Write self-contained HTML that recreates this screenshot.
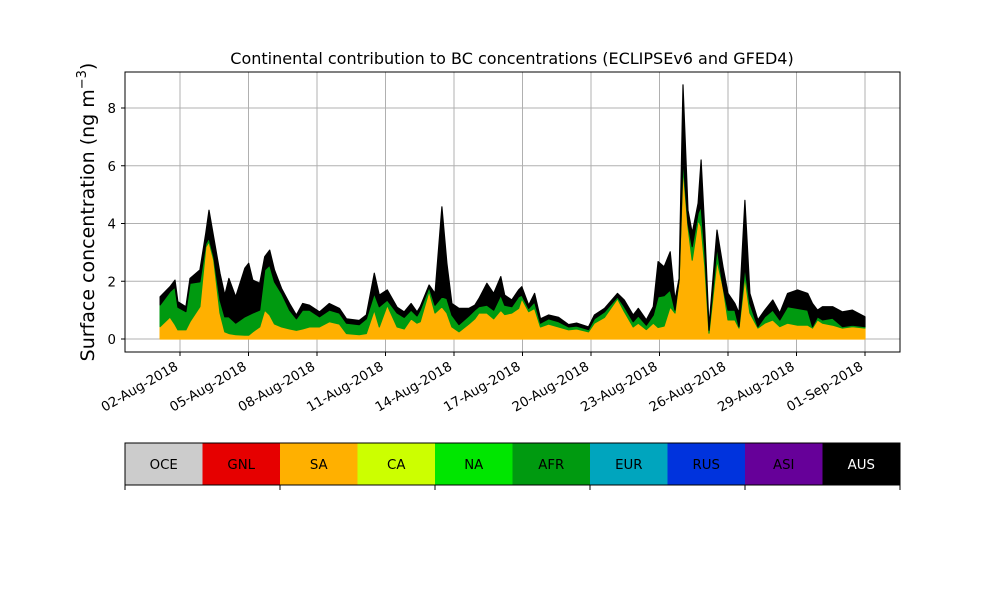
<!DOCTYPE html>
<html><head><meta charset="utf-8"><style>
body{margin:0;background:#fff;}
svg{display:block;font-family:"DejaVu Sans","Liberation Sans",sans-serif;}
</style></head><body>
<svg id="chart" width="1000" height="600" xmlns="http://www.w3.org/2000/svg">
<rect x="0" y="0" width="1000" height="600" fill="#fff"/>
<text x="512" y="64" text-anchor="middle" font-size="16">Continental contribution to BC concentrations (ECLIPSEv6 and GFED4)</text>
<text transform="translate(94,212) rotate(-90)" text-anchor="middle" font-size="19">Surface concentration (ng m<tspan dy="-8" font-size="13">−3</tspan><tspan dy="8">)</tspan></text>
<g id="grid"></g>
<g id="areas"></g>
<rect x="125" y="72" width="775" height="280" fill="none" stroke="#000" stroke-width="1"/>
<g id="axes"></g>
<g id="cbar"></g>
</svg>
<script>
const days = [0.13,0.56,0.78,0.91,1.26,1.44,1.87,2.13,2.27,2.48,2.75,2.96,3.14,3.44,3.84,4.01,4.19,4.49,4.71,4.93,5.14,5.45,5.80,6.10,6.37,6.67,7.11,7.54,7.98,8.29,8.85,9.16,9.51,9.73,10.08,10.51,10.82,11.12,11.38,11.52,11.91,12.17,12.47,12.69,12.91,13.22,13.65,13.91,14.09,14.44,14.74,15.05,15.22,15.53,15.83,15.97,16.27,16.53,16.79,17.14,17.58,18.02,18.37,18.89,19.15,19.59,20.16,20.46,20.85,21.07,21.42,21.73,21.94,22.20,22.47,22.68,22.86,23.03,23.25,23.43,23.69,23.82,23.99,24.17,24.52,24.78,25.00,25.30,25.48,25.74,25.96,26.31,26.61,26.96,27.27,27.61,28.05,28.49,28.70,28.92,29.14,29.58,30.01,30.45,31.0];
const saValues = [.43,.76,.5,.32,.32,.6,1.12,3.19,3.37,2.73,.9,.25,.19,.15,.13,.13,.25,.42,1.0,.83,.52,.42,.35,.3,.35,.42,.42,.6,.52,.19,.15,.19,1.0,.42,1.17,.42,.35,.7,.55,.6,1.66,.9,1.12,.9,.42,.25,.52,.7,.9,.9,.7,1.0,.85,.9,1.06,1.4,.95,1.06,.42,.52,.42,.32,.35,.25,.55,.75,1.4,.95,.42,.55,.33,.55,.4,.45,1.12,.9,2.04,5.96,3.89,2.73,4.12,3.9,2.5,.2,2.73,1.81,.66,.66,.38,2.16,.9,.38,.55,.66,.43,.55,.48,.48,.38,.66,.55,.48,.38,.43,.38];
const afrValues = [.75,.88,1.3,.78,.63,1.33,.86,.11,.13,.12,.45,.52,.58,.4,.64,.7,.65,.58,1.39,1.73,1.46,1.16,.65,.4,.65,.58,.35,.4,.38,.36,.35,.51,.58,.7,.18,.48,.4,.3,.25,.4,.14,.27,.34,.5,.41,.25,.28,.3,.22,.27,.3,.52,.32,.22,.4,.12,.11,.23,.13,.18,.18,.1,.1,.08,.15,.19,.06,.17,.18,.25,.15,.28,1.06,1.05,.58,.1,0,.34,.11,.47,.24,.7,.5,.1,.47,0,.34,.34,.05,.34,.33,.05,.22,.34,.23,.57,.58,.52,.05,.11,.11,.24,.05,.05,.05];
const ausValues = [.28,.17,.24,.19,.17,.17,.41,.37,.96,.65,.93,.75,1.33,.91,1.68,1.79,1.14,.93,.46,.52,.41,.17,.23,.13,.23,.17,.17,.23,.16,.15,.14,.13,.7,.4,.35,.2,.19,.23,.14,.12,.07,.41,3.12,1.22,.4,.56,.26,.17,.28,.76,.58,.64,.35,.23,.24,.29,.11,.29,.15,.13,.15,.08,.1,.09,.13,.12,.12,.23,.23,.26,.18,.29,1.22,1.0,1.32,.35,.06,2.5,.46,.47,.34,1.6,.67,.13,.57,.69,.58,.23,.47,2.3,.35,.23,.23,.35,.24,.46,.64,.58,.8,.23,.46,.4,.51,.52,.34];
const yTicks = [0,2,4,6,8];
const xTickDays = [1,4,7,10,13,16,19,22,25,28,31];
const xTickLabels = ["02-Aug-2018","05-Aug-2018","08-Aug-2018","11-Aug-2018","14-Aug-2018","17-Aug-2018","20-Aug-2018","23-Aug-2018","26-Aug-2018","29-Aug-2018","01-Sep-2018"];
const regions = ["OCE","GNL","SA","CA","NA","AFR","EUR","RUS","ASI","AUS"];
const regionColors = ["#cccccc","#e60000","#ffb000","#ccff00","#00e600","#009a10","#00a5be","#0033dd","#660099","#000000"];

const NS="http://www.w3.org/2000/svg";
function xS(d){return 180+(d-1)*(865-180)/30;}
function yS(v){return 339-v*(339-108)/8;}
function mk(tag,attrs,parent){const e=document.createElementNS(NS,tag);for(const k in attrs)e.setAttribute(k,attrs[k]);parent.appendChild(e);return e;}
const grid=document.getElementById('grid'),axes=document.getElementById('axes'),areas=document.getElementById('areas'),cbar=document.getElementById('cbar');

yTicks.forEach((t,i)=>{
  const y=yS(t);
  const g=mk('line',{x1:125,x2:900,y1:y,y2:y,stroke:'#b0b0b0','stroke-width':1},grid);
  
  
  const tk=mk('line',{x1:121,x2:125,y1:y,y2:y,stroke:'#000'},axes);
  
  
  const tx=mk('text',{x:116,y:y+5,'text-anchor':'end','font-size':13.3},axes);
  tx.textContent=t;
  
  
});
xTickDays.forEach((d,i)=>{
  const x=xS(d);
  const g=mk('line',{x1:x,x2:x,y1:72,y2:352,stroke:'#b0b0b0','stroke-width':1},grid);
  
  
  const tk=mk('line',{x1:x,x2:x,y1:352,y2:356,stroke:'#000'},axes);
  
  
  const tx=mk('text',{x:0,y:0,'text-anchor':'end','font-size':13.3,transform:`translate(${x-1},${369}) rotate(-30)`},axes);
  tx.textContent=xTickLabels[i];
  
  
});

const layers=[["SA",saValues,"#ffb000"],["AFR",afrValues,"#009a10"],["AUS",ausValues,"#000000"]];
let base=days.map(()=>0);
layers.forEach(([name,vals,col])=>{
  const top=base.map((b,i)=>b+vals[i]);
  let d='M'+days.map((t,i)=>xS(t).toFixed(1)+','+yS(top[i]).toFixed(1)).join('L');
  for(let i=days.length-1;i>=0;i--)d+='L'+xS(days[i]).toFixed(1)+','+yS(base[i]).toFixed(1);
  d+='Z';
  const p=mk('path',{d:d,fill:col,stroke:col,'stroke-width':1.2,'stroke-linejoin':'round'},areas);
  
  
  base=top;
});

const bw=775/regions.length;
regions.forEach((r,i)=>{
  const rc=mk('rect',{x:125+i*bw,y:443,width:bw+0.5,height:42,fill:regionColors[i]},cbar);
  
  
  const t=mk('text',{x:125+i*bw+bw/2,y:469,'text-anchor':'middle','font-size':13.3,fill:r==="AUS"?'#fff':'#000'},cbar);
  t.textContent=r;
  
  
});
const fr=mk('rect',{x:125,y:443,width:775,height:42,fill:'none',stroke:'#000'},cbar);


for(let i=0;i<=regions.length;i+=2){
  const x=125+i*bw;
  const tk=mk('line',{x1:x,x2:x,y1:485,y2:490,stroke:'#000'},cbar);
  
  
}
</script>
</body></html>
